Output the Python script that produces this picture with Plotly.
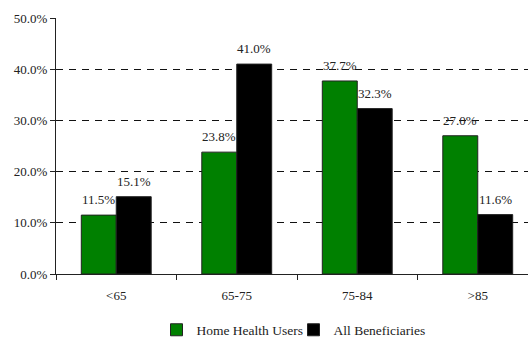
import plotly.graph_objects as go

categories = ["<65", "65-75", "75-84", ">85"]
home_health = [11.5, 23.8, 37.7, 27.0]
all_benef = [15.1, 41.0, 32.3, 11.6]
y_ticks = [0, 10, 20, 30, 40, 50]
y_tick_labels = ["0.0%", "10.0%", "20.0%", "30.0%", "40.0%", "50.0%"]

FONT = "Liberation Serif, Times New Roman, serif"
TXT = "#222222"

W, H = 528, 339
L, R, T, B = 56, 0, 18, 65
cat_px = 120.5  # pixel width of one category (plot is cropped at right)
x_max = -0.5 + (W - L - R) / cat_px
bargap = 0.42
half_bar = cat_px * (1 - bargap) / 4

fig = go.Figure()
fig.add_trace(go.Bar(
    x=categories, y=home_health, name="Home Health Users",
    marker=dict(color="#008000", line=dict(color="#222222", width=1)),
))
fig.add_trace(go.Bar(
    x=categories, y=all_benef, name="All Beneficiaries",
    marker=dict(color="#000000", line=dict(color="#222222", width=1)),
))

for vals, sh in ((home_health, -half_bar), (all_benef, half_bar)):
    for c, v in zip(categories, vals):
        fig.add_annotation(x=c, y=v, text=f"{v:.1f}%", showarrow=False,
                           xshift=sh, yshift=6, yanchor="bottom",
                           font=dict(family=FONT, size=13, color=TXT))

fig.update_layout(
    width=W, height=H,
    margin=dict(l=L, r=R, t=T, b=B),
    paper_bgcolor="white", plot_bgcolor="white",
    barmode="group", bargap=bargap, bargroupgap=0,
    font=dict(family=FONT, size=13, color=TXT),
    showlegend=True,
    legend=dict(orientation="h", xref="container", yref="container",
                x=293.5 / W, xanchor="center", y=9 / H, yanchor="middle",
                font=dict(family=FONT, size=13.5, color=TXT),
                itemwidth=30, tracegroupgap=0, bgcolor="rgba(0,0,0,0)",
                entrywidth=92, entrywidthmode="pixels"),
    xaxis=dict(range=[-0.5, x_max], showline=True, linecolor="#222222", linewidth=1,
               ticks="outside", tickson="boundaries", ticklen=5, tickcolor="#222222",
               showgrid=False, tickfont=dict(family=FONT, size=13),
               ticklabelstandoff=9),
    yaxis=dict(range=[0, 50], tickvals=y_ticks, ticktext=y_tick_labels,
               showline=True, linecolor="#222222", linewidth=1,
               ticks="outside", ticklen=5, tickcolor="#222222",
               showgrid=True, gridcolor="#111111", griddash="7px,6px", gridwidth=1,
               zeroline=False, tickfont=dict(family=FONT, size=13)),
)
fig.write_html("out.html")
